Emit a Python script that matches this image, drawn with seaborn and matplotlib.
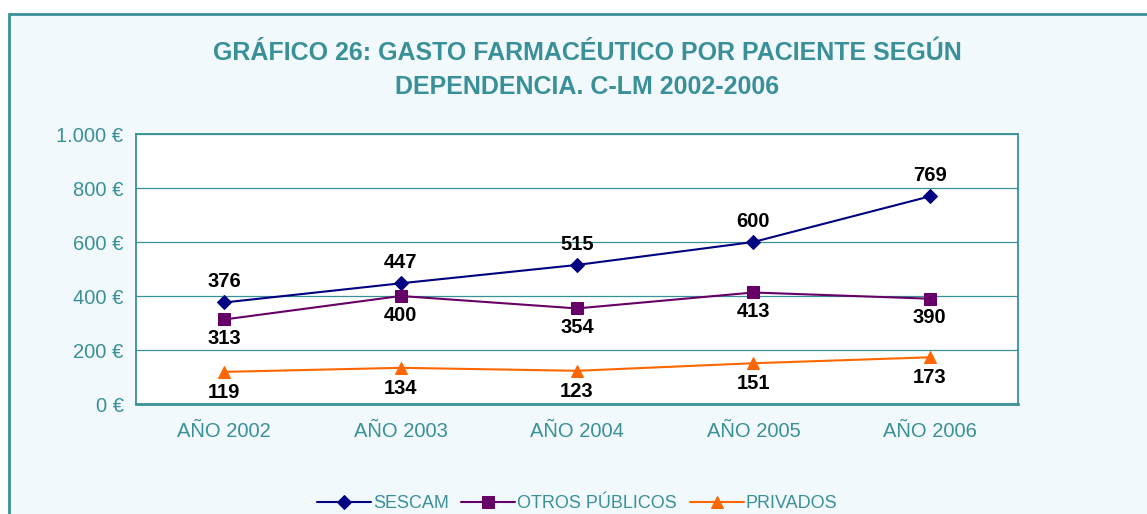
import pandas as pd
import matplotlib.pyplot as plt
import seaborn as sns
from matplotlib.patches import Rectangle
from matplotlib.ticker import FuncFormatter, FixedLocator

years = ['AÑO 2002', 'AÑO 2003', 'AÑO 2004', 'AÑO 2005', 'AÑO 2006']
sescam = [376, 447, 515, 600, 769]
otros = [313, 400, 354, 413, 390]
privados = [119, 134, 123, 151, 173]

series = ['SESCAM', 'OTROS PÚBLICOS', 'PRIVADOS']
colors = ['#000080', '#660066', '#FF6600']
markers = ['D', 's', '^']
msizes = [7.5, 8, 9]

df = pd.DataFrame({
    'year': years * 3,
    'valor': sescam + otros + privados,
    'serie': [s for s in series for _ in years],
})

teal = '#3A9098'

sns.set_style("white")
plt.rcParams['font.family'] = ['Liberation Sans', 'DejaVu Sans']

fig = plt.figure(figsize=(11.47, 5.14), dpi=100)
fig.patch.set_facecolor('white')
fig.patches.append(Rectangle((9 / 1147, -0.05), 1.2, 1 - 14 / 514 + 0.05,
                             transform=fig.transFigure, facecolor='#F2F9FC',
                             edgecolor=teal, linewidth=2, zorder=-10))

ax = fig.add_axes([136 / 1147, 110 / 514, 882 / 1147, 270 / 514])
ax.set_facecolor('white')

for s, c, m, ms in zip(series, colors, markers, msizes):
    sub = df[df['serie'] == s]
    sns.lineplot(data=sub, x='year', y='valor', ax=ax, color=c, marker=m,
                 markersize=ms, markeredgecolor=c, linewidth=1.5, label=s,
                 sort=False)

# data labels
for i, v in enumerate(sescam):
    ax.annotate(str(v), (i, v), xytext=(0, 8), textcoords='offset points',
                ha='center', va='bottom', fontsize=14.5, fontweight='bold', color='black')
for i, v in enumerate(otros):
    ax.annotate(str(v), (i, v), xytext=(0, -7), textcoords='offset points',
                ha='center', va='top', fontsize=14.5, fontweight='bold', color='black')
for i, v in enumerate(privados):
    ax.annotate(str(v), (i, v), xytext=(0, -8), textcoords='offset points',
                ha='center', va='top', fontsize=14.5, fontweight='bold', color='black')

ax.set_xlim(-0.5, len(years) - 0.5)
ax.set_ylim(0, 1000)
ax.set_yticks(range(0, 1001, 200))
ax.yaxis.set_major_formatter(FuncFormatter(lambda v, p: f'{int(v):,} €'.replace(',', '.')))
ax.grid(axis='y', color=teal, linewidth=0.9)
ax.grid(axis='x', visible=False)
ax.set_axisbelow(True)

ax.xaxis.set_minor_locator(FixedLocator([i - 0.5 for i in range(len(years) + 1)]))
ax.tick_params(axis='x', which='major', length=0, labelsize=14.5, labelcolor=teal, pad=13)
ax.tick_params(axis='x', which='minor', length=6, color=teal, width=1, direction='out')
ax.tick_params(axis='y', length=6, color=teal, width=1, direction='out',
               labelsize=14.5, labelcolor=teal, pad=3)

for side in ['left', 'right', 'top']:
    ax.spines[side].set_color(teal)
    ax.spines[side].set_linewidth(1.3)
ax.spines['bottom'].set_color(teal)
ax.spines['bottom'].set_linewidth(2)

ax.set_xlabel('')
ax.set_ylabel('')

leg = ax.legend(loc='center', bbox_to_anchor=(0.5, -0.37), ncol=3, frameon=False,
                fontsize=13, handlelength=3.0, handletextpad=0.1, columnspacing=0.7)
for t in leg.get_texts():
    t.set_color(teal)

fig.text(0.512, 1 - 70 / 514, 'GRÁFICO 26: GASTO FARMACÉUTICO POR PACIENTE SEGÚN\nDEPENDENCIA. C-LM 2002-2006',
         ha='center', va='center', fontsize=18, fontweight='bold', color=teal, linespacing=1.55)

fig.savefig('out.png', dpi=100)
